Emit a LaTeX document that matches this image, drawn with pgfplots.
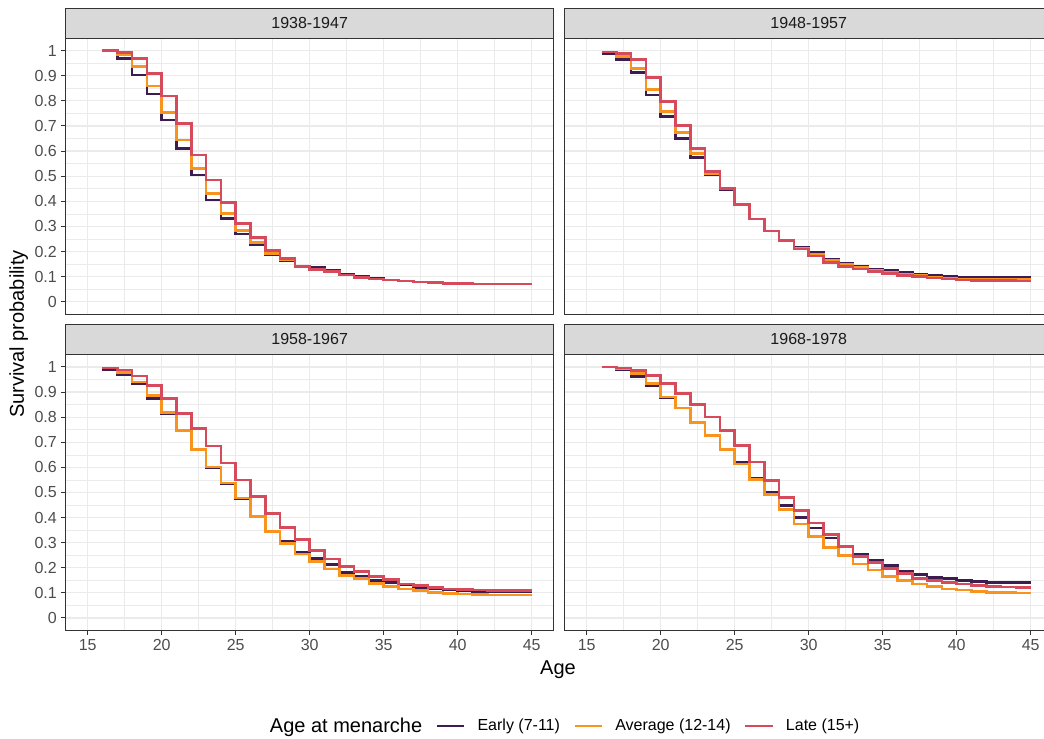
\documentclass[border=0pt]{standalone}
\usepackage{fontspec}
\setmainfont{Liberation Sans}
\usepackage{pgfplots}
\usepackage{pgfplotstable}
\pgfplotsset{compat=1.18}
\definecolor{early}{HTML}{3D1C50}
\definecolor{average}{HTML}{F8931D}
\definecolor{late}{HTML}{D64B5C}
\definecolor{gridgrey}{HTML}{EBEBEB}
\definecolor{grey20}{HTML}{333333}
\definecolor{grey30}{HTML}{4D4D4D}
\definecolor{grey85}{HTML}{D9D9D9}
\definecolor{grey10}{HTML}{1A1A1A}

% 1938-1947
\pgfplotstableread{
age e a l
16 1.000 1.000 1.000
17 0.969 0.983 0.992
18 0.903 0.936 0.969
19 0.827 0.859 0.910
20 0.724 0.754 0.819
21 0.611 0.644 0.710
22 0.505 0.531 0.584
23 0.405 0.432 0.485
24 0.332 0.352 0.394
25 0.270 0.283 0.312
26 0.226 0.235 0.256
27 0.189 0.193 0.203
28 0.163 0.166 0.173
29 0.142 0.139 0.139
30 0.135 0.128 0.129
31 0.126 0.120 0.120
32 0.108 0.106 0.106
33 0.100 0.097 0.097
34 0.092 0.090 0.090
35 0.087 0.086 0.086
36 0.082 0.082 0.082
37 0.078 0.078 0.078
38 0.076 0.076 0.076
39 0.073 0.073 0.073
40 0.072 0.072 0.072
41 0.071 0.071 0.071
42 0.071 0.071 0.071
43 0.070 0.070 0.070
44 0.070 0.070 0.070
45 0.070 0.070 0.070
}\dataA
% 1948-1957
\pgfplotstableread{
age e a l
16 0.990 0.995 0.995
17 0.965 0.977 0.990
18 0.912 0.928 0.966
19 0.823 0.846 0.894
20 0.737 0.757 0.797
21 0.651 0.673 0.703
22 0.575 0.591 0.610
23 0.505 0.511 0.520
24 0.445 0.450 0.450
25 0.387 0.387 0.387
26 0.330 0.330 0.330
27 0.282 0.282 0.282
28 0.245 0.245 0.243
29 0.215 0.212 0.210
30 0.197 0.189 0.182
31 0.169 0.163 0.155
32 0.153 0.149 0.139
33 0.142 0.135 0.130
34 0.130 0.125 0.120
35 0.124 0.118 0.113
36 0.116 0.110 0.105
37 0.109 0.104 0.100
38 0.104 0.099 0.094
39 0.100 0.095 0.090
40 0.097 0.091 0.086
41 0.096 0.090 0.085
42 0.096 0.089 0.084
43 0.096 0.089 0.084
44 0.096 0.088 0.083
45 0.096 0.088 0.083
}\dataB
% 1958-1967
\pgfplotstableread{
age e a l
16 0.991 0.996 0.996
17 0.969 0.979 0.988
18 0.933 0.940 0.964
19 0.875 0.887 0.927
20 0.815 0.818 0.873
21 0.745 0.748 0.814
22 0.669 0.671 0.754
23 0.600 0.602 0.685
24 0.536 0.538 0.618
25 0.476 0.478 0.549
26 0.405 0.405 0.485
27 0.347 0.345 0.416
28 0.306 0.298 0.361
29 0.262 0.255 0.312
30 0.236 0.225 0.269
31 0.213 0.195 0.235
32 0.182 0.169 0.206
33 0.166 0.156 0.185
34 0.149 0.138 0.165
35 0.142 0.126 0.153
36 0.131 0.116 0.136
37 0.122 0.109 0.129
38 0.118 0.102 0.122
39 0.113 0.098 0.116
40 0.109 0.096 0.113
41 0.106 0.093 0.111
42 0.106 0.092 0.110
43 0.106 0.092 0.110
44 0.106 0.092 0.110
45 0.106 0.092 0.110
}\dataC
% 1968-1978
\pgfplotstableread{
age e a l
16 1.000 1.000 1.000
17 0.990 0.995 0.996
18 0.963 0.973 0.987
19 0.927 0.934 0.967
20 0.878 0.880 0.934
21 0.836 0.836 0.894
22 0.780 0.780 0.850
23 0.725 0.727 0.800
24 0.672 0.672 0.747
25 0.621 0.614 0.688
26 0.555 0.552 0.621
27 0.501 0.491 0.548
28 0.448 0.431 0.481
29 0.399 0.375 0.428
30 0.358 0.324 0.379
31 0.319 0.282 0.332
32 0.285 0.249 0.286
33 0.255 0.215 0.246
34 0.231 0.191 0.222
35 0.209 0.165 0.198
36 0.185 0.149 0.176
37 0.172 0.136 0.158
38 0.161 0.125 0.149
39 0.156 0.116 0.142
40 0.148 0.112 0.136
41 0.145 0.106 0.130
42 0.142 0.102 0.126
43 0.141 0.101 0.124
44 0.141 0.100 0.122
45 0.141 0.100 0.122
}\dataD

\pgfplotsset{
  facet/.style={
    scale only axis, width=366.3pt, height=207.1pt,
    xmin=13.5, xmax=46.5, ymin=-0.05, ymax=1.05,
    xtick={15,20,25,30,35,40,45},
    ytick={0,0.1,0.2,0.3,0.4,0.5,0.6,0.7,0.8,0.9,1},
    yticklabels={0,0.1,0.2,0.3,0.4,0.5,0.6,0.7,0.8,0.9,1},
    minor xtick={17.5,22.5,27.5,32.5,37.5,42.5},
    minor ytick={0.05,0.15,0.25,0.35,0.45,0.55,0.65,0.75,0.85,0.95},
    grid=both,
    major grid style={gridgrey, line width=0.9pt},
    minor grid style={gridgrey, line width=0.45pt},
    axis line style={grey20, line width=0.75pt},
    tick align=outside, major tick length=3pt, minor tick length=0pt,
    major tick style={grey20, line width=0.75pt},
    tick label style={font=\fontsize{12}{14}\selectfont, color=grey30},
    /pgf/number format/assume math mode=true,
    xtick pos=bottom, ytick pos=left,
  },
  notx/.style={xmajorticks=false, xticklabels={}},
  noty/.style={ymajorticks=false, yticklabels={}},
  surv/.style={const plot, line width=2pt, no marks, line join=miter},
  legend image code/.code={\draw[#1] (0pt,0pt) -- (20.5pt,0pt);},
}

\newcommand{\strip}[2]{%
  \draw[grey20, fill=grey85, line width=0.75pt] (#1.north west) rectangle ([yshift=22.5pt]#1.north east);
  \node[font=\fontsize{12}{14}\selectfont, text=grey10] at ([yshift=11.25pt]#1.north) {#2};
}

\begin{document}
\begin{tikzpicture}
% top-left
\begin{axis}[facet, notx, name=tl, at={(49.1pt,317.8pt)}, anchor=south west]
\addplot[surv, early] table[x=age, y=e] {\dataA};
\addplot[surv, average] table[x=age, y=a] {\dataA};
\addplot[surv, late] table[x=age, y=l] {\dataA};
\end{axis}
% top-right
\begin{axis}[facet, notx, noty, name=tr, at={(423.4pt,317.8pt)}, anchor=south west]
\addplot[surv, early] table[x=age, y=e] {\dataB};
\addplot[surv, average] table[x=age, y=a] {\dataB};
\addplot[surv, late] table[x=age, y=l] {\dataB};
\end{axis}
% bottom-left
\begin{axis}[facet, name=bl, at={(49.1pt,80.6pt)}, anchor=south west,
  legend style={at={(1.0125,-0.346)}, anchor=center, draw=none, fill=none,
    legend columns=-1, font=\fontsize{12}{14}\selectfont,
    /tikz/every odd column/.append style={column sep=7pt},
    /tikz/every even column/.append style={column sep=8pt}},
  ]
\addlegendimage{empty legend}
\addlegendentry{\fontsize{15}{18}\selectfont Age at menarche}
\addplot[surv, early] table[x=age, y=e] {\dataC};
\addlegendentry{Early (7-11)}
\addplot[surv, average] table[x=age, y=a] {\dataC};
\addlegendentry{Average (12-14)}
\addplot[surv, late] table[x=age, y=l] {\dataC};
\addlegendentry{Late (15+)}
\end{axis}
% bottom-right
\begin{axis}[facet, noty, name=br, at={(423.4pt,80.6pt)}, anchor=south west]
\addplot[surv, early] table[x=age, y=e] {\dataD};
\addplot[surv, average] table[x=age, y=a] {\dataD};
\addplot[surv, late] table[x=age, y=l] {\dataD};
\end{axis}
\strip{tl}{1938-1947}
\strip{tr}{1948-1957}
\strip{bl}{1958-1967}
\strip{br}{1968-1978}
\node[font=\fontsize{15}{18}\selectfont] at (418.5pt,51pt) {Age};
\node[font=\fontsize{15}{18}\selectfont, rotate=90] at (14pt,303pt) {Survival probability};
\pgfresetboundingbox
\useasboundingbox (0pt,0pt) rectangle (783pt,553.5pt);
\end{tikzpicture}
\end{document}
